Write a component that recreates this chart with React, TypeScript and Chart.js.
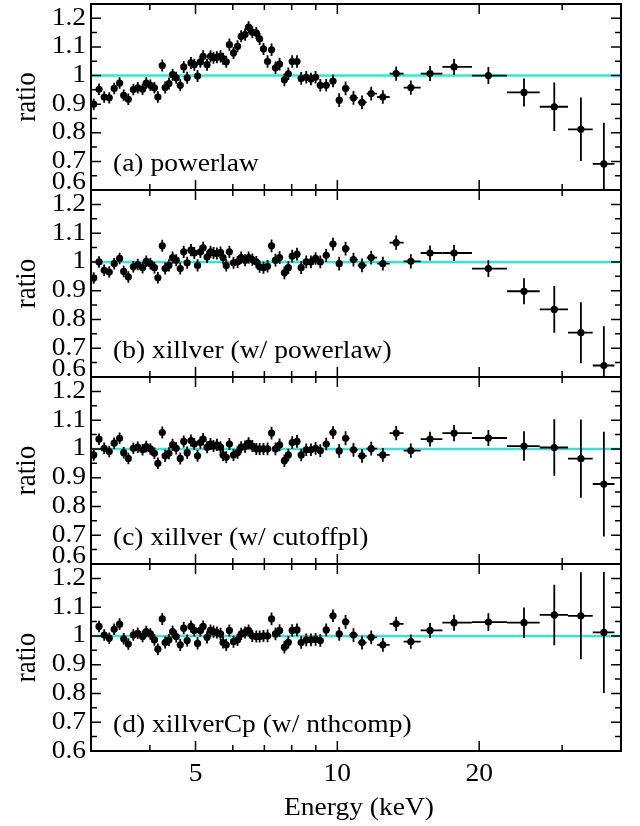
import React, { useEffect, useRef } from 'react';
import { Chart, registerables } from 'chart.js';

Chart.register(...registerables);

// ---------------- data ----------------
const energies = [
  3.04, 3.12, 3.20, 3.28, 3.36, 3.45, 3.52, 3.60, 3.69, 3.77,
  3.86, 3.93, 4.01, 4.09, 4.16, 4.25, 4.31, 4.39, 4.47, 4.55,
  4.64, 4.72, 4.80, 4.89, 4.97, 5.05, 5.12, 5.19, 5.29, 5.38,
  5.46, 5.55, 5.65, 5.72, 5.81, 5.90, 6.02, 6.14, 6.25, 6.37,
  6.48, 6.60, 6.73, 6.84, 6.97, 7.11, 7.25, 7.39, 7.54, 7.72,
  7.87, 8.02, 8.21, 8.38, 8.59, 8.79, 8.99, 9.20, 9.47, 9.79,
  10.09, 10.41, 10.82, 11.28, 11.80, 12.49, 13.33, 14.32, 15.73, 17.69,
  20.92, 24.90, 28.87, 32.88, 36.79,
];

const ratioA = [
  0.900, 0.952, 0.925, 0.922, 0.955, 0.974, 0.931, 0.917, 0.951, 0.957,
  0.952, 0.974, 0.966, 0.957, 0.925, 1.035, 0.958, 0.972, 1.003, 0.992,
  0.966, 1.030, 0.992, 1.044, 1.038, 0.998, 1.048, 1.067, 1.038, 1.067,
  1.062, 1.064, 1.067, 1.059, 1.048, 1.108, 1.079, 1.102, 1.137, 1.143,
  1.169, 1.151, 1.149, 1.128, 1.093, 1.049, 1.090, 1.027, 1.040, 0.985,
  1.006, 1.049, 1.049, 0.990, 0.994, 0.988, 0.994, 0.966, 0.966, 0.981,
  0.914, 0.955, 0.922, 0.906, 0.937, 0.925, 1.007, 0.958, 1.007, 1.030,
  1.000, 0.941, 0.891, 0.812, 0.691,
];

const ratioB = [
  0.944, 1.000, 0.971, 0.965, 0.994, 1.012, 0.967, 0.948, 0.983, 0.991,
  0.980, 1.002, 0.994, 0.980, 0.945, 1.056, 0.977, 0.988, 1.015, 1.006,
  0.977, 1.035, 0.997, 1.041, 1.031, 0.988, 1.035, 1.049, 1.017, 1.035,
  1.031, 1.029, 1.033, 1.015, 0.988, 1.035, 0.997, 1.000, 1.015, 1.006,
  1.015, 1.008, 1.000, 0.983, 0.980, 0.985, 1.056, 1.006, 1.015, 0.962,
  0.980, 1.020, 1.027, 0.980, 1.000, 1.000, 1.012, 1.000, 1.023, 1.062,
  0.994, 1.046, 1.008, 0.988, 1.015, 0.994, 1.067, 1.002, 1.031, 1.031,
  0.977, 0.898, 0.835, 0.754, 0.640,
];

const ratioC = [
  0.979, 1.034, 1.002, 0.991, 1.020, 1.037, 0.987, 0.967, 1.002, 1.006,
  0.997, 1.008, 1.000, 0.985, 0.950, 1.057, 0.976, 0.985, 1.014, 1.002,
  0.967, 1.026, 0.987, 1.029, 1.017, 0.976, 1.022, 1.034, 1.006, 1.017,
  1.010, 1.014, 1.006, 0.979, 0.971, 1.017, 0.979, 0.987, 1.006, 1.008,
  1.020, 1.010, 1.000, 1.000, 1.000, 1.000, 1.055, 1.000, 1.014, 0.959,
  0.979, 1.022, 1.026, 0.979, 0.997, 0.997, 1.002, 0.994, 1.017, 1.057,
  0.993, 1.037, 0.997, 0.976, 1.001, 0.979, 1.055, 0.994, 1.034, 1.055,
  1.038, 1.010, 1.005, 0.966, 0.878,
];

const ratioD: (number | null)[] = [
  null, 1.033, 1.003, 0.992, 1.023, 1.041, 0.990, 0.972, 1.003, 1.009,
  0.998, 1.015, 1.007, 0.986, 0.954, 1.059, 0.977, 0.986, 1.015, 0.998,
  0.969, 1.027, 0.984, 1.033, 1.019, 0.974, 1.019, 1.033, 0.995, 1.019,
  1.015, 1.012, 1.007, 0.977, 0.969, 1.019, 0.980, 0.986, 1.007, 1.012,
  1.019, 1.000, 0.998, 0.998, 1.000, 1.000, 1.059, 1.007, 1.019, 0.961,
  0.978, 1.019, 1.021, 0.977, 0.986, 0.986, 0.988, 0.984, 1.021, 1.070,
  1.007, 1.049, 1.003, 0.977, 0.995, 0.969, 1.042, 0.980, 1.019, 1.046,
  1.048, 1.046, 1.073, 1.070, 1.012,
];

// 1-sigma ratio errors shared by the first 70 bins
const errCommon = [
  0.020, 0.020, 0.020, 0.020, 0.020, 0.020, 0.020, 0.020, 0.020, 0.020,
  0.020, 0.020, 0.020, 0.020, 0.020, 0.021, 0.021, 0.021, 0.021, 0.021,
  0.021, 0.021, 0.021, 0.021, 0.021, 0.021, 0.021, 0.021, 0.021, 0.021,
  0.021, 0.021, 0.021, 0.021, 0.021, 0.021, 0.021, 0.021, 0.021, 0.021,
  0.021, 0.021, 0.021, 0.021, 0.021, 0.022, 0.022, 0.022, 0.022, 0.022,
  0.022, 0.022, 0.022, 0.022, 0.022, 0.022, 0.022, 0.022, 0.022, 0.022,
  0.024, 0.024, 0.024, 0.024, 0.024, 0.024, 0.025, 0.025, 0.026, 0.028,
];
const errTailA = [0.030, 0.049, 0.085, 0.111, 0.144];
const errTailB = [0.029, 0.045, 0.081, 0.106, 0.136];
const errTailC = [0.028, 0.051, 0.098, 0.136, 0.182];
const errTailD = [0.031, 0.053, 0.105, 0.151, 0.210];

const panelLabels = [
  '(a) powerlaw',
  '(b) xillver (w/ powerlaw)',
  '(c) xillver (w/ cutoffpl)',
  '(d) xillverCp (w/ nthcomp)',
];

const yTickValues = [0.6, 0.7, 0.8, 0.9, 1.0, 1.1, 1.2];
const yTickLabels = ['0.6', '0.7', '0.8', '0.9', '1', '1.1', '1.2'];
const yMinorTicks = [0.65, 0.75, 0.85, 0.95, 1.05, 1.15];
const xMajorTicks = [5, 10, 20];
const xMajorLabels = ['5', '10', '20'];
const xMinorTicks = [4, 6, 7, 8, 9, 30];
const yAxisTitle = 'ratio';
const xAxisTitle = 'Energy (keV)';

const X_MIN = 3;
const X_MAX = 40;
const Y_MIN = 0.6;
const Y_MAX = 1.25;

// ---------------- layout ----------------
const W = 640;
const H = 826;
const PLOT_LEFT = 91;
const PLOT_RIGHT = 621;
const PANEL_TOPS = [4, 190, 377, 564];
const PANEL_BOTTOMS = [190, 377, 564, 751];
const FONT = '"Liberation Serif", "Times New Roman", serif';
const FS = 25;
const SX = 1.1;
const CYAN = '#40E0D0';

const panels = [
  { values: ratioA as (number | null)[], errs: [...errCommon, ...errTailA] },
  { values: ratioB as (number | null)[], errs: [...errCommon, ...errTailB] },
  { values: ratioC as (number | null)[], errs: [...errCommon, ...errTailC] },
  { values: ratioD, errs: [...errCommon, ...errTailD] },
];

// bin edges (contiguous bins, edges halfway between centres)
const binEdges: number[] = (() => {
  const n = energies.length;
  const mids: number[] = [];
  for (let i = 1; i < n; i++) mids.push((energies[i - 1] + energies[i]) / 2);
  const first = energies[0] - (mids[0] - energies[0]);
  const last = energies[n - 1] + (energies[n - 1] - mids[n - 2]);
  return [first, ...mids, last];
})();

function drawText(
  ctx: CanvasRenderingContext2D,
  text: string,
  x: number,
  y: number,
  align: CanvasTextAlign,
  baseline: CanvasTextBaseline,
  size: number,
) {
  ctx.save();
  ctx.translate(x, y);
  ctx.scale(SX, 1);
  ctx.font = `${size}px ${FONT}`;
  ctx.fillStyle = '#000';
  ctx.textAlign = align;
  ctx.textBaseline = baseline;
  ctx.fillText(text, 0, 0);
  ctx.restore();
}

function makeOverlay(idx: number) {
  const panel = panels[idx];
  const isLast = idx === panels.length - 1;
  return {
    id: 'overlay' + idx,
    afterDatasetsDraw(chart: any) {
      const { ctx, chartArea: a, scales } = chart;
      const xs = scales.x;
      const ys = scales.y;
      ctx.save();
      ctx.beginPath();
      ctx.rect(a.left, a.top, a.right - a.left, a.bottom - a.top);
      ctx.clip();
      ctx.strokeStyle = '#000';
      ctx.lineWidth = 1.8;
      ctx.lineCap = 'butt';
      for (let i = 0; i < energies.length; i++) {
        const v = panel.values[i];
        if (v == null) continue;
        const e = panel.errs[i];
        const px = xs.getPixelForValue(energies[i]);
        const py = ys.getPixelForValue(v);
        const x0 = xs.getPixelForValue(binEdges[i]);
        const x1 = xs.getPixelForValue(binEdges[i + 1]);
        const y0 = ys.getPixelForValue(v - e);
        const y1 = ys.getPixelForValue(v + e);
        ctx.beginPath();
        ctx.moveTo(x0, py);
        ctx.lineTo(x1, py);
        ctx.moveTo(px, y0);
        ctx.lineTo(px, y1);
        ctx.stroke();
      }
      ctx.restore();
    },
    afterDraw(chart: any) {
      const { ctx, chartArea: a, scales } = chart;
      const xs = scales.x;
      const ys = scales.y;
      ctx.save();
      ctx.strokeStyle = '#000';
      ctx.lineWidth = 1.5;
      const xTick = (v: number, len: number) => {
        const px = xs.getPixelForValue(v);
        ctx.beginPath();
        ctx.moveTo(px, a.bottom);
        ctx.lineTo(px, a.bottom - len);
        ctx.moveTo(px, a.top);
        ctx.lineTo(px, a.top + len);
        ctx.stroke();
      };
      xMajorTicks.forEach((v) => xTick(v, 10));
      xMinorTicks.forEach((v) => xTick(v, 6));
      const yTick = (v: number, len: number) => {
        const py = ys.getPixelForValue(v);
        ctx.beginPath();
        ctx.moveTo(a.left, py);
        ctx.lineTo(a.left + len, py);
        ctx.moveTo(a.right, py);
        ctx.lineTo(a.right - len, py);
        ctx.stroke();
      };
      yTickValues.forEach((v) => yTick(v, 10));
      yMinorTicks.forEach((v) => yTick(v, 6));
      ctx.lineWidth = 2;
      ctx.strokeRect(a.left, a.top, a.right - a.left, a.bottom - a.top);
      ctx.restore();

      yTickValues.forEach((v, k) => {
        const py = ys.getPixelForValue(v);
        if (k === 0 && !isLast) {
          drawText(ctx, yTickLabels[k], a.left - 5, a.bottom - 1, 'right', 'alphabetic', FS);
        } else {
          drawText(ctx, yTickLabels[k], a.left - 5, py, 'right', 'middle', FS);
        }
      });

      ctx.save();
      ctx.translate(27, (a.top + a.bottom) / 2);
      ctx.scale(1.1, 1);
      ctx.rotate(-Math.PI / 2);
      ctx.font = `27px ${FONT}`;
      ctx.fillStyle = '#000';
      ctx.textAlign = 'center';
      ctx.textBaseline = 'middle';
      ctx.fillText(yAxisTitle, 0, 0);
      ctx.restore();

      drawText(ctx, panelLabels[idx], a.left + 22, a.bottom - 19, 'left', 'alphabetic', FS);

      if (isLast) {
        xMajorTicks.forEach((v, k) => {
          drawText(ctx, xMajorLabels[k], xs.getPixelForValue(v), a.bottom + 23, 'center', 'middle', FS);
        });
        drawText(ctx, xAxisTitle, (a.left + a.right) / 2 + 3, a.bottom + 57, 'center', 'middle', FS);
      }
    },
  };
}

function Panel({ idx }: { idx: number }) {
  const ref = useRef<HTMLCanvasElement | null>(null);
  useEffect(() => {
    const canvas = ref.current;
    if (!canvas) return;
    const panel = panels[idx];
    const pts: { x: number; y: number }[] = [];
    energies.forEach((e, i) => {
      const v = panel.values[i];
      if (v != null) pts.push({ x: e, y: v });
    });
    const chart = new Chart(canvas, {
      type: 'scatter',
      data: {
        datasets: [
          {
            data: pts,
            pointRadius: 3.6,
            pointBackgroundColor: '#000',
            pointBorderWidth: 0,
            pointBorderColor: '#000',
            order: 0,
          } as any,
          {
            data: [
              { x: X_MIN, y: 1 },
              { x: X_MAX, y: 1 },
            ],
            showLine: true,
            borderColor: CYAN,
            borderWidth: 2.5,
            pointRadius: 0,
            order: 1,
          } as any,
        ],
      },
      options: {
        responsive: false,
        animation: false,
        events: [],
        layout: {
          padding: {
            left: PLOT_LEFT,
            right: W - PLOT_RIGHT,
            top: PANEL_TOPS[idx],
            bottom: H - PANEL_BOTTOMS[idx],
          },
        },
        plugins: {
          legend: { display: false },
          tooltip: { enabled: false },
          title: { display: false },
        },
        scales: {
          x: { type: 'logarithmic', min: X_MIN, max: X_MAX, display: false },
          y: { type: 'linear', min: Y_MIN, max: Y_MAX, display: false },
        },
      },
      plugins: [makeOverlay(idx)],
    });
    return () => chart.destroy();
  }, [idx]);
  return (
    <canvas
      ref={ref}
      width={W}
      height={H}
      style={{ position: 'absolute', left: 0, top: 0, width: W, height: H }}
    />
  );
}

export default function App() {
  return (
    <div
      style={{
        position: 'fixed',
        left: 0,
        top: 0,
        width: W,
        height: H,
        background: '#fff',
        overflow: 'hidden',
      }}
    >
      {panels.map((_, i) => (
        <Panel key={i} idx={i} />
      ))}
    </div>
  );
}
